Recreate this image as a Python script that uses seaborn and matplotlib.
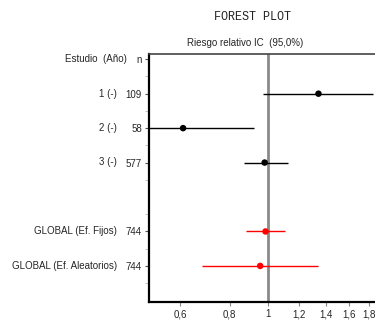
import numpy as np
import pandas as pd
import seaborn as sns
import matplotlib.pyplot as plt
from matplotlib.ticker import FixedLocator, FixedFormatter, NullLocator

# data
studies = ["1 (-)", "2 (-)", "3 (-)", "GLOBAL (Ef. Fijos)", "GLOBAL (Ef. Aleatorios)"]
n_obs = [109, 58, 577, 744, 744]
rr = [1.34, 0.61, 0.98, 0.985, 0.955]
ci_low = [0.97, 0.40, 0.87, 0.88, 0.68]
ci_high = [1.84, 0.92, 1.12, 1.10, 1.34]
kind = ["estudio", "estudio", "estudio", "global", "global"]
x_ticks = [0.6, 0.8, 1, 1.2, 1.4, 1.6, 1.8]
x_ticklabels = ["0,6", "0,8", "1", "1,2", "1,4", "1,6", "1,8"]

sns.set_style("white")
plt.rcParams["font.family"] = ["Liberation Sans", "DejaVu Sans"]

df = pd.DataFrame({"estudio": studies, "n": n_obs, "rr": rr,
                   "lo": ci_low, "hi": ci_high, "tipo": kind})
# one empty row between the studies and the pooled estimates
df["fila"] = np.arange(1, len(df) + 1) + (df["tipo"] == "global").astype(int)

fig = plt.figure(figsize=(3.75, 3.2), dpi=100)
ax = fig.add_axes([0.397, 0.056, 0.636, 0.775])

ax.set_xscale("log")
ax.axvline(1, color="#8a8a8a", lw=2, zorder=1)

palette = {"estudio": "black", "global": "#ff0000"}
for _, r in df.iterrows():
    ax.hlines(r["fila"], r["lo"], r["hi"], color=palette[r["tipo"]], lw=1, zorder=2)
sns.scatterplot(data=df, x="rr", y="fila", hue="tipo", palette=palette,
                s=22, marker="o", edgecolor="none", legend=False, ax=ax, zorder=3)

ax.set_xlim(0.5, 2.0)
ax.set_ylim(7.05, -0.15)
ax.set_xlabel("")
ax.set_ylabel("")

ax.set_yticks([0] + list(df["fila"]))
ax.set_yticklabels(["n"] + [str(v) for v in df["n"]])
ax.set_yticks(np.arange(0.5, 7, 1.0), minor=True)
ax.tick_params(axis="y", which="major", length=3, width=0.8, color="#555555",
               labelsize=7, pad=2, left=True)
ax.tick_params(axis="y", which="minor", length=3, width=0.6, color="#bbbbbb", left=True)
ax.tick_params(axis="x", which="major", length=3, width=0.8, color="#888888",
               labelsize=7, pad=2, bottom=True)

for side in ["left", "bottom"]:
    ax.spines[side].set_color("black")
    ax.spines[side].set_linewidth(1.6)
ax.spines["top"].set_color("#444444")
ax.spines["top"].set_linewidth(1.2)
ax.spines["right"].set_visible(False)

# study labels to the left of the n column
for _, r in df.iterrows():
    fig.text(117 / 375, 1 - (54 + (r["fila"] + 0.15) * 34.44) / 320, r["estudio"],
             ha="right", va="center", fontsize=7)
fig.text(127 / 375, 1 - (54 + 0.15 * 34.44) / 320, "Estudio  (Año)",
         ha="right", va="center", fontsize=7)

fig.text(245 / 375, 1 - 43 / 320, "Riesgo relativo IC  (95,0%)",
         ha="center", va="center", fontsize=7)
fig.text(252 / 375, 1 - 17 / 320, "FOREST PLOT", ha="center", va="center",
         fontsize=8.5, family="Liberation Mono", color="#222222")

# comma decimals on the log axis, set last so nothing resets them
ax.xaxis.set_major_locator(FixedLocator(x_ticks))
ax.xaxis.set_major_formatter(FixedFormatter(x_ticklabels))
ax.xaxis.set_minor_locator(NullLocator())

fig.savefig("out.png", dpi=100)
